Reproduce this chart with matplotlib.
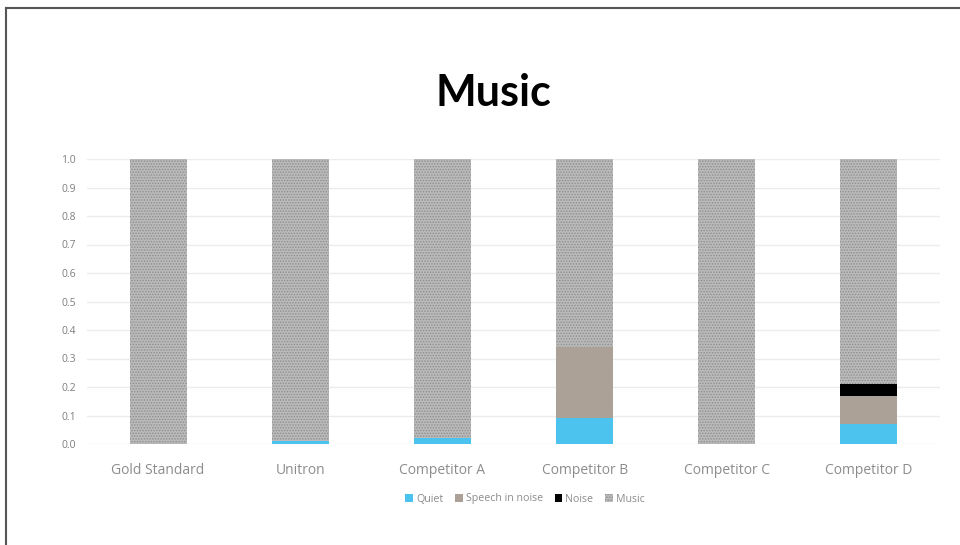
import matplotlib as mpl
import matplotlib.pyplot as plt
import numpy as np

mpl.use("Agg")

# data
categories = ["Gold Standard", "Unitron", "Competitor A", "Competitor B", "Competitor C", "Competitor D"]
quiet = [0.0, 0.01, 0.02, 0.09, 0.0, 0.07]
speech_in_noise = [0.0, 0.0, 0.0, 0.25, 0.0, 0.10]
noise = [0.0, 0.0, 0.0, 0.0, 0.0, 0.04]
music = [1.0, 0.99, 0.98, 0.66, 1.0, 0.79]
y_ticks = [0.0, 0.1, 0.2, 0.3, 0.4, 0.5, 0.6, 0.7, 0.8, 0.9, 1.0]

plt.rcParams["font.family"] = ["Open Sans", "DejaVu Sans"]
plt.rcParams["hatch.linewidth"] = 0.7

fig = plt.figure(figsize=(9.6, 5.45), dpi=100)
ax = fig.add_axes([87 / 960, 1 - 444 / 545, (940 - 87) / 960, (444 - 159) / 545])

x = np.arange(len(categories))
w = 0.4
bottom = np.zeros(len(categories))

series = [
    ("Quiet", quiet, dict(color="#4bc3ee")),
    ("Speech in noise", speech_in_noise, dict(color="#aba196")),
    ("Noise", noise, dict(color="#000000")),
]
for label, vals, style in series:
    ax.bar(x, vals, w, bottom=bottom, label=label, linewidth=0, **style)
    bottom += np.array(vals)

ax.bar(x, music, w, bottom=bottom, label="Music", facecolor="#bababa",
       edgecolor="#8e8e8e", hatch="......", linewidth=0)

ax.set_xlim(-0.5, len(categories) - 0.5)
ax.set_ylim(0, 1.0)
ax.set_yticks(y_ticks)
ax.set_yticklabels([f"{t:.1f}" for t in y_ticks], fontsize=7.5, color="#7f7f7f")
ax.set_xticks(x)
ax.set_xticklabels(categories, fontsize=10, color="#8c8c8c")
ax.tick_params(length=0)
ax.tick_params(axis="x", pad=14)
ax.tick_params(axis="y", pad=8)
for s in ax.spines.values():
    s.set_visible(False)
ax.grid(axis="y", color="#ececec", linewidth=1)
ax.set_axisbelow(True)

fig.text(0.514, 1 - 93 / 545, "Music", ha="center", va="center",
         fontsize=31, fontweight="bold", color="#000000", family=["Lato", "DejaVu Sans"])

leg = fig.legend(loc="center", bbox_to_anchor=(525 / 960, 1 - 499 / 545), ncol=4,
                 frameon=False, fontsize=7.7, handlelength=0.7, handleheight=0.7,
                 handletextpad=0.3, columnspacing=1.1)
for t in leg.get_texts():
    t.set_color("#8c8c8c")

# partial frame of the original slide (left and top edges)
fig.add_artist(plt.Line2D([6 / 960, 6 / 960], [0, 1 - 8 / 545], transform=fig.transFigure,
                          color="#555555", linewidth=1.5))
fig.add_artist(plt.Line2D([6 / 960, 1], [1 - 8 / 545, 1 - 8 / 545], transform=fig.transFigure,
                          color="#555555", linewidth=1.5))

fig.savefig("out.png", dpi=100)
